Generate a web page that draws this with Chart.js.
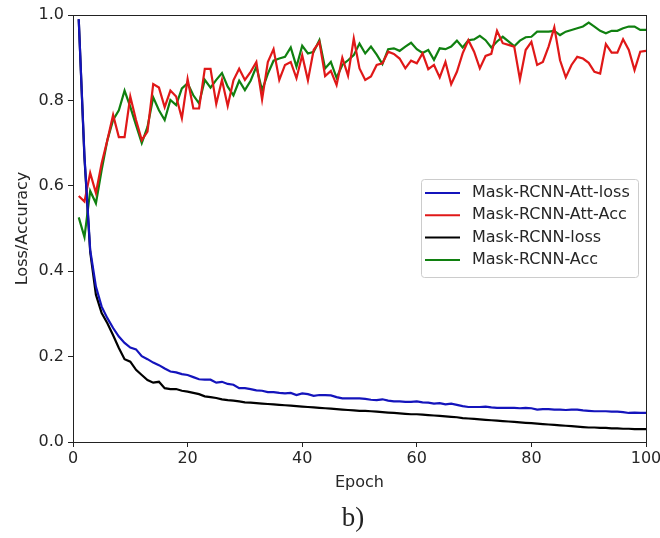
<!DOCTYPE html>
<html>
<head>
<meta charset="utf-8">
<script src="https://cdn.jsdelivr.net/npm/chart.js@4"></script>
<style>
  body { margin: 0; background: #fff; }
  #wrap { position: relative; width: 660px; height: 538px; }
  #caption {
    position: absolute; left: 0; width: 706px; top: 502px;
    text-align: center; font-family: "Liberation Serif", serif; font-size: 27px; color: #222;
  }
</style>
</head>
<body>
<div id="wrap">
  <canvas id="myChart" width="660" height="538"></canvas>
  <div id="caption">b)</div>
</div>
<script>
// epochs 1..100
const epochs = Array.from({ length: 100 }, (_, i) => i + 1);
const xTicks = [0, 20, 40, 60, 80, 100];
const yTicks = [0.0, 0.2, 0.4, 0.6, 0.8, 1.0];

// Mask-RCNN-Att-loss (blue)
const attLoss = [
  0.99, 0.67, 0.45, 0.364, 0.317, 0.29, 0.267, 0.247, 0.232, 0.221,
  0.217, 0.201, 0.194, 0.186, 0.18, 0.172, 0.165, 0.163, 0.159, 0.157,
  0.152, 0.147, 0.146, 0.146, 0.139, 0.141, 0.136, 0.134, 0.126, 0.126,
  0.124, 0.121, 0.12, 0.117, 0.117, 0.115, 0.114, 0.115, 0.11, 0.114,
  0.112, 0.108, 0.11, 0.11, 0.109, 0.105, 0.102, 0.102, 0.102, 0.102,
  0.101, 0.099, 0.098, 0.1, 0.097, 0.095, 0.095, 0.094, 0.094, 0.095,
  0.093, 0.092, 0.09, 0.091, 0.088, 0.09, 0.087, 0.084, 0.082, 0.082,
  0.082, 0.083, 0.081, 0.08, 0.08, 0.08, 0.08, 0.079, 0.08, 0.079,
  0.076, 0.077, 0.077, 0.076, 0.076, 0.075, 0.076, 0.076, 0.074, 0.073,
  0.072, 0.072, 0.072, 0.071, 0.071, 0.07, 0.068, 0.069, 0.068, 0.068
];

// Mask-RCNN-Att-Acc (red)
const attAcc = [
  0.576, 0.563, 0.63, 0.583, 0.653, 0.707, 0.766, 0.714, 0.714, 0.809,
  0.754, 0.707, 0.727, 0.838, 0.83, 0.784, 0.823, 0.809, 0.758, 0.85,
  0.781, 0.781, 0.874, 0.874, 0.792, 0.848, 0.787, 0.847, 0.874, 0.848,
  0.867, 0.89, 0.802, 0.89, 0.92, 0.848, 0.883, 0.89, 0.852, 0.906,
  0.847, 0.918, 0.937, 0.857, 0.869, 0.836, 0.9, 0.858, 0.945, 0.875,
  0.848, 0.856, 0.883, 0.887, 0.914, 0.909, 0.898, 0.875, 0.893, 0.887,
  0.91, 0.873, 0.883, 0.854, 0.89, 0.838, 0.867, 0.91, 0.941, 0.914,
  0.875, 0.904, 0.909, 0.963, 0.934, 0.93, 0.926, 0.849, 0.918, 0.937,
  0.883, 0.89, 0.926, 0.971, 0.894, 0.854, 0.883, 0.902, 0.898, 0.888,
  0.867, 0.863, 0.932, 0.912, 0.912, 0.943, 0.918, 0.871, 0.914, 0.916
];

// Mask-RCNN-loss (black)
const baseLoss = [
  0.99, 0.665, 0.445, 0.345, 0.302, 0.278, 0.25, 0.22, 0.194, 0.188,
  0.169, 0.157, 0.145, 0.139, 0.141, 0.126, 0.124, 0.124, 0.12, 0.118,
  0.115, 0.112, 0.107, 0.105, 0.103, 0.1, 0.098, 0.097, 0.095, 0.093,
  0.092, 0.091, 0.09, 0.089, 0.088, 0.087, 0.086, 0.085, 0.084, 0.083,
  0.082, 0.081, 0.08, 0.079, 0.078, 0.077, 0.076, 0.075, 0.074, 0.073,
  0.073, 0.072, 0.071, 0.07, 0.069, 0.068, 0.067, 0.066, 0.065, 0.065,
  0.064, 0.063, 0.062, 0.061, 0.06, 0.059, 0.058, 0.056, 0.055, 0.054,
  0.053, 0.052, 0.051, 0.05, 0.049, 0.048, 0.047, 0.046, 0.045, 0.044,
  0.043, 0.042, 0.041, 0.04, 0.039, 0.038, 0.037, 0.036, 0.035, 0.034,
  0.034, 0.033, 0.033, 0.032, 0.032, 0.031, 0.031, 0.03, 0.03, 0.03
];

// Mask-RCNN-Acc (green)
const baseAcc = [
  0.526, 0.48, 0.588, 0.559, 0.637, 0.707, 0.754, 0.777, 0.823, 0.785,
  0.742, 0.7, 0.738, 0.807, 0.777, 0.754, 0.801, 0.789, 0.828, 0.84,
  0.812, 0.793, 0.848, 0.83, 0.848, 0.864, 0.832, 0.812, 0.846, 0.824,
  0.846, 0.879, 0.824, 0.862, 0.893, 0.898, 0.902, 0.924, 0.879, 0.928,
  0.91, 0.914, 0.941, 0.875, 0.89, 0.853, 0.883, 0.894, 0.906, 0.933,
  0.91, 0.926, 0.907, 0.885, 0.92, 0.922, 0.916, 0.926, 0.935, 0.92,
  0.911, 0.918, 0.895, 0.922, 0.92, 0.926, 0.94, 0.924, 0.941, 0.943,
  0.951, 0.941, 0.924, 0.938, 0.949, 0.938, 0.927, 0.94, 0.948, 0.949,
  0.961, 0.961, 0.961, 0.963, 0.953, 0.961, 0.965, 0.969, 0.973, 0.982,
  0.973, 0.963, 0.957, 0.963, 0.963, 0.969, 0.973, 0.973, 0.965, 0.965
];

const seriesNames = ['Mask-RCNN-Att-loss', 'Mask-RCNN-Att-Acc', 'Mask-RCNN-loss', 'Mask-RCNN-Acc'];
const seriesColors = ['#1414bc', '#e01818', '#000000', '#108010'];
const seriesValues = [attLoss, attAcc, baseLoss, baseAcc];

const FONT = 'DejaVu Sans';
const TEXT = '#262626';

// border on all four sides + legend box inside the plot
const framePlugin = {
  id: 'frame',
  afterDraw(chart) {
    const { ctx, chartArea: a } = chart;
    ctx.save();
    ctx.strokeStyle = '#222';
    ctx.lineWidth = 1;
    ctx.strokeRect(a.left + 0.5, a.top + 0.5, a.right - a.left, a.bottom - a.top);

    // legend
    const bx = 421, by = 179, bw = 217, bh = 98;
    ctx.fillStyle = 'rgba(255,255,255,0.85)';
    ctx.strokeStyle = '#cccccc';
    ctx.beginPath();
    ctx.roundRect(bx + 0.5, by + 0.5, bw, bh, 3);
    ctx.fill();
    ctx.stroke();
    ctx.font = '16px "' + FONT + '"';
    ctx.textBaseline = 'middle';
    chart.data.datasets.forEach((ds, i) => {
      const y = by + 14 + i * 22.3;
      ctx.strokeStyle = ds.borderColor;
      ctx.lineWidth = 2;
      ctx.beginPath();
      ctx.moveTo(bx + 4, y);
      ctx.lineTo(bx + 39, y);
      ctx.stroke();
      ctx.fillStyle = TEXT;
      ctx.fillText(ds.label, bx + 51, y);
    });
    ctx.restore();
  }
};

const ctx = document.getElementById('myChart').getContext('2d');
const chart = new Chart(ctx, {
  type: 'line',
  data: {
    datasets: seriesNames.map((name, i) => ({
      label: name,
      data: epochs.map((e, j) => ({ x: e, y: seriesValues[i][j] })),
      borderColor: seriesColors[i],
      backgroundColor: seriesColors[i],
      borderWidth: 2.2,
      pointRadius: 0,
      tension: 0,
      fill: false
    }))
  },
  options: {
    responsive: false,
    animation: false,
    layout: { padding: { top: 15, right: 14, bottom: 0, left: 0 } },
    plugins: {
      legend: { display: false },
      tooltip: { enabled: false }
    },
    scales: {
      x: {
        type: 'linear',
        min: 0,
        max: 100,
        afterBuildTicks: (s) => { s.ticks = xTicks.map(v => ({ value: v })); },
        ticks: { color: TEXT, font: { family: FONT, size: 16 }, padding: 2, maxRotation: 0 },
        grid: { drawOnChartArea: false, drawTicks: true, tickLength: 5, tickColor: '#222' },
        border: { color: '#222', width: 1 },
        title: { display: true, text: 'Epoch', color: TEXT, font: { family: FONT, size: 16 }, padding: { top: 0, bottom: 46 } },
        afterFit: (s) => { s.height = 96; s.paddingLeft = 0; s.paddingRight = 0; }
      },
      y: {
        min: 0,
        max: 1,
        afterBuildTicks: (s) => { s.ticks = yTicks.map(v => ({ value: v })); },
        ticks: { color: TEXT, font: { family: FONT, size: 16 }, padding: 4, callback: (v) => v.toFixed(1) },
        grid: { drawOnChartArea: false, drawTicks: true, tickLength: 5, tickColor: '#222' },
        border: { color: '#222', width: 1 },
        title: { display: true, text: 'Loss/Accuracy', color: TEXT, font: { family: FONT, size: 16 }, padding: { top: 13, bottom: 0 } },
        afterFit: (s) => { s.width = 73; s.paddingTop = 0; s.paddingBottom = 0; }
      }
    }
  },
  plugins: [framePlugin]
});
</script>
</body>
</html>
